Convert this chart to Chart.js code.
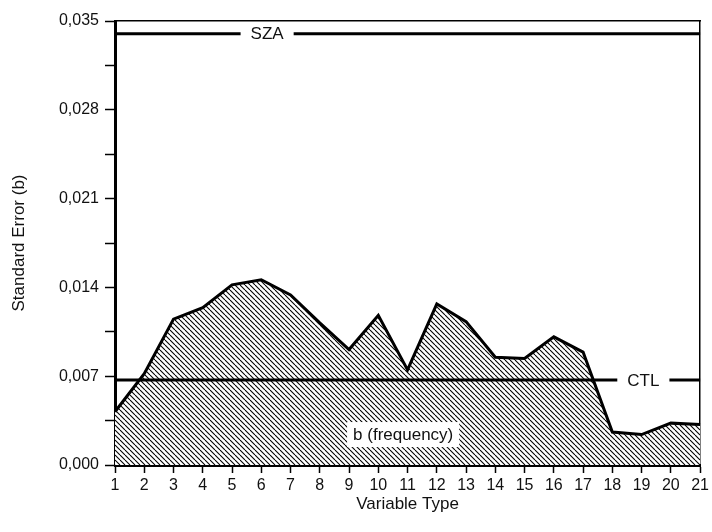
<!DOCTYPE html>
<html>
<head>
<meta charset="utf-8">
<script src="https://cdn.jsdelivr.net/npm/chart.js@4.4.1/dist/chart.umd.min.js"></script>
<style>
  html, body { margin: 0; padding: 0; background: #fff; }
  #wrap { width: 712px; height: 532px; }
</style>
</head>
<body>
<div id="wrap"><canvas id="chart"></canvas></div>
<script>
// values
const variableTypes = ['1','2','3','4','5','6','7','8','9','10','11','12','13','14','15','16','17','18','19','20','21'];
const stdErrorB = [0.0042, 0.0072, 0.0115, 0.0124, 0.0142, 0.0146, 0.0134, 0.0112, 0.0091, 0.0118, 0.0075,
                   0.0127, 0.0113, 0.0085, 0.0084, 0.0101, 0.0089, 0.0026, 0.0024, 0.0033, 0.0032];
const szaLevel = 0.0340;
const ctlLevel = 0.0067;
const yTickLabels = ['0,000', '0,007', '0,014', '0,021', '0,028', '0,035'];

const FONT = '"Liberation Sans", Arial, sans-serif';

// diagonal hatching for the area under the curve
function hatch() {
  const c = document.createElement('canvas');
  c.width = 5; c.height = 5;
  const g = c.getContext('2d');
  g.fillStyle = '#fff';
  g.fillRect(0, 0, 5, 5);
  g.strokeStyle = '#000';
  g.lineWidth = 1.1;
  [-5, 0, 5].forEach(dx => {
    g.beginPath();
    g.moveTo(dx, 0);
    g.lineTo(dx + 5, 5);
    g.stroke();
  });
  return g.createPattern(c, 'repeat');
}

// text labels sitting on the lines, with white behind them
const lineLabels = {
  id: 'lineLabels',
  afterDatasetsDraw(chart) {
    const { ctx, scales: { x, y } } = chart;
    const items = [
      { text: 'SZA', at: 5.2, v: szaLevel, padX: 10, padY: 5 },
      { text: 'CTL', at: 18.06, v: ctlLevel, padX: 10, padY: 5 },
      { text: 'b (frequency)', at: 9.85, v: 0.0024, padX: 6, padY: 12.5 }
    ];
    ctx.save();
    ctx.font = '17px ' + FONT;
    ctx.textAlign = 'center';
    ctx.textBaseline = 'middle';
    items.forEach(it => {
      const px = x.getPixelForValue(it.at);
      const py = y.getPixelForValue(it.v);
      const w = ctx.measureText(it.text).width;
      ctx.fillStyle = '#fff';
      ctx.fillRect(px - w / 2 - it.padX, py - it.padY, w + it.padX * 2, it.padY * 2);
      ctx.fillStyle = '#111';
      ctx.fillText(it.text, px, py + 1);
    });
    ctx.restore();
  }
};

new Chart(document.getElementById('chart'), {
  type: 'line',
  data: {
    labels: variableTypes,
    datasets: [
      {
        label: 'SZA',
        data: [{ x: '1', y: szaLevel }, { x: '21', y: szaLevel }],
        borderColor: '#000',
        borderWidth: 3,
        pointRadius: 0,
        fill: false
      },
      {
        label: 'CTL',
        data: [{ x: '1', y: ctlLevel }, { x: '21', y: ctlLevel }],
        borderColor: '#000',
        borderWidth: 3,
        pointRadius: 0,
        fill: false
      },
      {
        label: 'b (frequency)',
        data: stdErrorB,
        borderColor: '#000',
        borderWidth: 3,
        backgroundColor: hatch(),
        fill: 'origin',
        pointRadius: 0,
        tension: 0
      }
    ]
  },
  options: {
    responsive: true,
    maintainAspectRatio: false,
    animation: false,
    layout: { padding: { top: 21, right: 10, bottom: 0, left: 0 } },
    plugins: {
      legend: { display: false },
      tooltip: { enabled: false }
    },
    scales: {
      x: {
        type: 'category',
        offset: false,
        grid: { drawOnChartArea: false, drawTicks: true, tickLength: 8, tickColor: '#000', tickWidth: 1.5 },
        border: { color: '#000', width: 3 },
        ticks: { color: '#111', font: { family: FONT, size: 16 }, padding: 3, maxRotation: 0, autoSkip: false },
        title: { display: true, text: 'Variable Type', color: '#111', font: { family: FONT, size: 17 }, padding: { top: 0, bottom: 17 } },
        afterFit: s => { s.height = 67; }
      },
      y: {
        min: 0,
        max: 0.035,
        ticks: {
          stepSize: 0.0035,
          color: '#111',
          font: { family: FONT, size: 16 },
          padding: 6,
          callback: (v, i) => (i % 2 === 0 ? yTickLabels[i / 2] : '')
        },
        grid: { drawOnChartArea: false, drawTicks: true, tickLength: 10, tickColor: '#000', tickWidth: 1.5 },
        border: { color: '#000', width: 3 },
        title: { display: true, text: 'Standard Error (b)', color: '#111', font: { family: FONT, size: 17 }, padding: { top: 9, bottom: 0 } },
        afterFit: s => { s.width = 115; }
      },
      xTop: {
        type: 'linear',
        position: 'top',
        min: 0,
        max: 1,
        ticks: { display: false },
        grid: { drawOnChartArea: false, drawTicks: false },
        border: { color: '#000', width: 1.5 },
        afterFit: s => { s.height = 0; }
      },
      yRight: {
        type: 'linear',
        position: 'right',
        min: 0,
        max: 1,
        ticks: { display: false },
        grid: { drawOnChartArea: false, drawTicks: false },
        border: { color: '#000', width: 1.5 },
        afterFit: s => { s.width = 0; }
      }
    }
  },
  plugins: [lineLabels]
});
</script>
</body>
</html>
